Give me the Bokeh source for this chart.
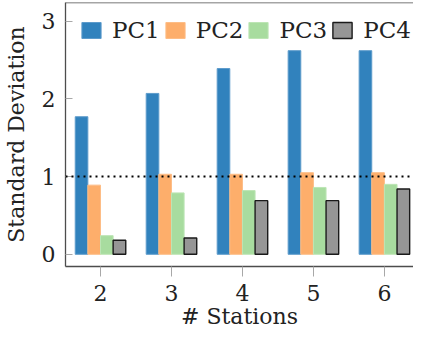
from bokeh.plotting import figure
from bokeh.models import Range1d, FixedTicker, Span, Legend, LegendItem, ColumnDataSource
from bokeh.transform import dodge
from bokeh.embed import file_html
from bokeh.resources import INLINE

# ---- data ----
stations = [2, 3, 4, 5, 6]
pc1 = [1.77, 2.07, 2.39, 2.62, 2.62]
pc2 = [0.89, 1.03, 1.03, 1.05, 1.05]
pc3 = [0.24, 0.79, 0.82, 0.86, 0.90]
pc4 = [0.18, 0.21, 0.69, 0.69, 0.84]
series_names = ["PC1", "PC2", "PC3", "PC4"]
x_ticks = [2, 3, 4, 5, 6]
y_ticks = [0, 1, 2, 3]
reference_level = 1.0
x_title = "# Stations"
y_title = "Standard Deviation"

FONT = "DejaVu Serif"
colors = ["#3182bd", "#fdae6b", "#a8dc9f", "#969696"]
edges = ["#5d9bcb", "#fdbd86", "#bde5b5", "#1a1a1a"]
edge_w = [1, 1, 1, 1.4]

source = ColumnDataSource(data=dict(stations=stations, PC1=pc1, PC2=pc2, PC3=pc3, PC4=pc4))

p = figure(width=413, height=331, output_backend="svg", toolbar_location=None,
           x_range=Range1d(1.507, 6.41), y_range=Range1d(-0.157, 3.24),
           min_border_left=55, min_border_right=0, min_border_top=2, min_border_bottom=20)

p.xgrid.visible = False
p.ygrid.visible = False
p.outline_line_color = None
p.background_fill_color = "white"
p.border_fill_color = "white"

bw = 0.178
offsets = [-1.5 * bw, -0.5 * bw, 0.5 * bw, 1.5 * bw]
renderers = []
for name, off, c, ec, ew in zip(series_names, offsets, colors, edges, edge_w):
    r = p.vbar(x=dodge("stations", off, range=p.x_range), top=name, width=bw, bottom=0,
               source=source, fill_color=c, line_color=ec, line_width=ew)
    renderers.append(r)

p.add_layout(Span(location=reference_level, dimension="width", line_color="black",
                  line_dash="2 4", line_width=2))

AX = "#4d4d4d"
TK = "#a8a8a8"
# top frame line
p.add_layout(Span(location=p.y_range.end, dimension="width", line_color=AX, line_width=1.3))

# bottom axis
xa = p.xaxis[0]
xa.ticker = FixedTicker(ticks=x_ticks)
xa.axis_label = x_title
xa.axis_line_color = AX
xa.axis_line_width = 1.3
xa.major_tick_line_color = TK
xa.major_tick_out = 10
xa.major_tick_in = 0
xa.minor_tick_line_color = None
xa.major_label_standoff = 8
xa.axis_label_standoff = 0
xa.major_label_text_font = FONT
xa.major_label_text_font_size = "22px"
xa.major_label_text_color = "#222222"
xa.axis_label_text_font = FONT
xa.axis_label_text_font_size = "22px"
xa.axis_label_text_font_style = "normal"
xa.axis_label_text_color = "#222222"

ya = p.yaxis[0]
ya.ticker = FixedTicker(ticks=y_ticks)
ya.axis_label = y_title
ya.axis_line_color = AX
ya.axis_line_width = 1.3
ya.major_tick_line_color = TK
ya.major_tick_out = 0
ya.major_tick_in = 7
ya.minor_tick_line_color = None
ya.major_label_standoff = 10
ya.axis_label_standoff = 10
ya.major_label_text_font = FONT
ya.major_label_text_font_size = "22px"
ya.major_label_text_color = "#222222"
ya.axis_label_text_font = FONT
ya.axis_label_text_font_size = "22px"
ya.axis_label_text_font_style = "normal"
ya.axis_label_text_color = "#222222"

legend = Legend(items=[LegendItem(label=n, renderers=[r]) for n, r in zip(series_names, renderers)],
                orientation="horizontal", location=(14, 223), padding=6, margin=0,
                spacing=3, glyph_width=24, glyph_height=20, label_standoff=9,
                label_text_font=FONT, label_text_font_size="23px", label_text_color="#222222",
                border_line_color=None, background_fill_color="white", background_fill_alpha=1)
p.add_layout(legend, "center")

open("out.html", "w").write(file_html(p, INLINE))
